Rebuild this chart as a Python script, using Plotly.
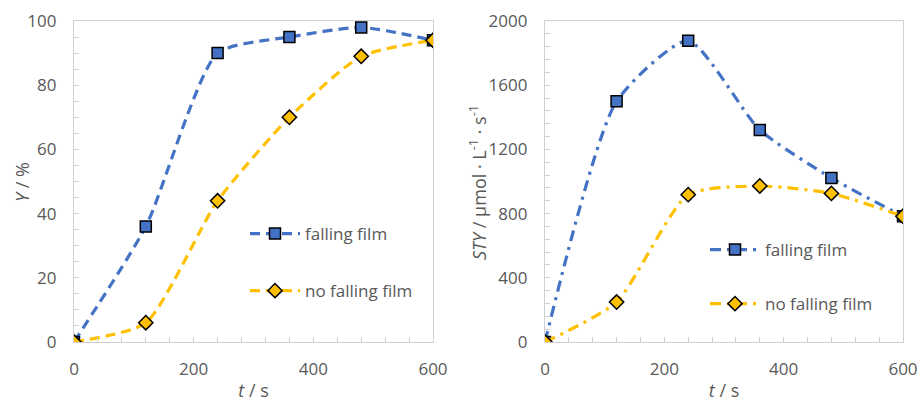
import plotly.graph_objects as go

t = [0, 120, 240, 360, 480, 600]
y_ff = [0, 36, 90, 95, 98, 94]
y_nff = [0, 6, 44, 70, 89, 94]
sty_ff = [0, 1500, 1877, 1321, 1022, 783]
sty_nff = [0, 249, 918, 972, 926, 783]

BLUE = "#4472C4"
YEL = "#FFC000"
GRAY = "#595959"
LINE = "#D0D0D0"
FONT = "Open Sans"

fig = go.Figure()

def add(x, y, name, color, symbol, size, dash, xa, ya, legend, grp):
    fig.add_trace(go.Scatter(
        x=x, y=y, name=name, mode="lines+markers",
        xaxis=xa, yaxis=ya, legend=legend, legendgroup=grp,
        line=dict(color=color, width=3.2, dash=dash, shape="spline", smoothing=0.6),
        marker=dict(symbol=symbol, size=size, color=color,
                    line=dict(color="black", width=1.5)),
    ))

add(t, y_ff, "falling film", BLUE, "square", 11, "10px,6px", "x", "y", "legend", "a")
add(t, y_nff, "no falling film", YEL, "diamond", 11, "10px,6px", "x", "y", "legend", "b")
add(t, sty_ff, "falling film", BLUE, "square", 11, "11px,6px,3px,6px", "x2", "y2", "legend2", "c")
add(t, sty_nff, "no falling film", YEL, "diamond", 11, "11px,6px,3px,6px", "x2", "y2", "legend2", "d")

W, H = 917, 402
def fx(px): return px / W
def fy(py): return 1 - py / H

axis_common = dict(
    showline=True, linecolor=LINE, linewidth=1.3, mirror=True,
    showgrid=False, zeroline=False, automargin=False,
    ticks="inside", ticklen=5, tickcolor=LINE, tickwidth=1.3,
    tickfont=dict(family=FONT, size=17, color=GRAY),
    ticklabeloverflow="allow",
)
TFONT = dict(family=FONT, size=18, color=GRAY)

xcommon = dict(axis_common, range=[0, 600], tickvals=[0, 200, 400, 600],
               ticklabelstandoff=11,
               minor=dict(dtick=40, ticks="inside", ticklen=5, tickcolor=LINE, tickwidth=1.3))

fig.update_layout(
    width=W, height=H,
    margin=dict(l=0, r=0, t=0, b=0, autoexpand=False),
    paper_bgcolor="white", plot_bgcolor="white",
    font=dict(family=FONT, color=GRAY),
    xaxis=dict(xcommon, domain=[fx(74), fx(433)], anchor="y",
               title=dict(text="<i>t</i> / s", font=TFONT, standoff=18)),
    yaxis=dict(axis_common, domain=[fy(342), fy(21)], anchor="x",
               range=[0, 100], tickvals=[0, 20, 40, 60, 80, 100],
               ticklabelstandoff=13,
               minor=dict(dtick=5, ticks="inside", ticklen=5, tickcolor=LINE, tickwidth=1.3)),
    xaxis2=dict(xcommon, domain=[fx(545), fx(903)], anchor="y2",
                title=dict(text="<i>t</i> / s", font=TFONT, standoff=18)),
    yaxis2=dict(axis_common, domain=[fy(342), fy(21)], anchor="x2",
                range=[0, 2000], tickvals=[0, 400, 800, 1200, 1600, 2000],
                ticklabelstandoff=13,
                minor=dict(dtick=80, ticks="inside", ticklen=5, tickcolor=LINE, tickwidth=1.3)),
    legend=dict(x=fx(245), y=fy(216), xanchor="left", yanchor="top",
                bgcolor="rgba(0,0,0,0)", font=dict(family=FONT, size=17, color=GRAY),
                tracegroupgap=32, itemwidth=50),
    legend2=dict(x=fx(705), y=fy(232), xanchor="left", yanchor="top",
                 bgcolor="rgba(0,0,0,0)", font=dict(family=FONT, size=17, color=GRAY),
                 tracegroupgap=29, itemwidth=50),
    annotations=[
        dict(text="<i>Y</i> / %", xref="paper", yref="paper", x=fx(22), y=fy(182),
             xanchor="center", yanchor="middle", textangle=-90, showarrow=False, font=TFONT),
        dict(text="<i>STY</i> / µmol · L<sup>-1</sup> · s<sup>-1</sup>", xref="paper", yref="paper",
             x=fx(478), y=fy(182), xanchor="center", yanchor="middle", textangle=-90,
             showarrow=False, font=TFONT),
    ],
)

fig.write_html("out.html")
